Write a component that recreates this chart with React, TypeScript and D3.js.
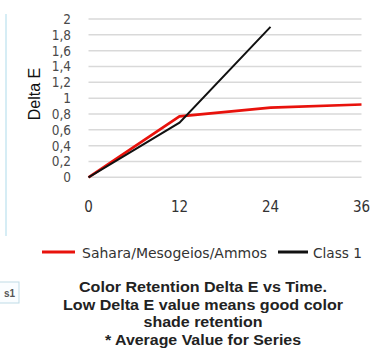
import React from "react";
import * as d3 from "d3";

const months = [0, 12, 24, 36];
const sahara = [0, 0.77, 0.88, 0.92];
const class1 = [0, 0.69, 1.9];
const yTicks = [0, 0.2, 0.4, 0.6, 0.8, 1, 1.2, 1.4, 1.6, 1.8, 2];
const legendLabels = ["Sahara/Mesogeios/Ammos", "Class 1"];
const titleLines = [
  "Color Retention Delta E vs Time.",
  "Low Delta E value means good color",
  "shade retention",
  "* Average Value for Series",
];
const titleWidths = [248, 280, 119, 196];

const W = 384;
const H = 351;

export default function App() {
  const x = d3.scaleLinear().domain([0, 36]).range([88.5, 361.5]);
  const y = d3.scaleLinear().domain([0, 2]).range([177.3, 19]);
  const line = d3
    .line<number>()
    .x((_, i) => x(months[i]))
    .y((d) => y(d));
  const fmt = (v: number) => String(v).replace(".", ",");
  const cond = "'DejaVu Sans Condensed', 'Liberation Sans Narrow', 'Liberation Sans', sans-serif";

  return (
    <svg
      width={W}
      height={H}
      style={{ position: "absolute", left: 0, top: 0, background: "#fff" }}
    >
      {/* left artifacts */}
      <line x1={6} x2={6} y1={14} y2={236} stroke="#d6edf5" strokeWidth={2} />
      <rect x={-2} y={282} width={21} height={21} fill="#fafdff" stroke="#bfdbe6" strokeWidth={1} />
      <text x={4} y={297} fontSize={10} fontWeight="bold" fill="#555" fontFamily="'Liberation Sans', sans-serif">
        s1
      </text>

      {/* gridlines */}
      {yTicks.map((t) => (
        <line
          key={t}
          x1={x(0)}
          x2={x(36)}
          y1={y(t)}
          y2={y(t)}
          stroke="#d9d9d9"
          strokeWidth={1.5}
        />
      ))}

      {/* y tick labels */}
      {yTicks.map((t) => (
        <text
          key={"l" + t}
          x={71}
          y={y(t)}
          dy="0.36em"
          textAnchor="end"
          fontSize={13.5}
          fontFamily={cond}
          fill="#4a4a4a"
        >
          {fmt(t)}
        </text>
      ))}

      <text
        transform={`translate(40,94) rotate(-90)`}
        textAnchor="middle"
        fontSize={16}
        fontFamily="'Liberation Sans', Arial, sans-serif"
        fill="#111"
      >
        Delta E
      </text>

      {/* x tick labels */}
      {months.map((m) => (
        <text
          key={"x" + m}
          x={x(m)}
          y={212}
          textAnchor="middle"
          fontSize={15}
          fontFamily={cond}
          fill="#333"
        >
          {m}
        </text>
      ))}

      {/* lines */}
      <path d={line(sahara) || ""} fill="none" stroke="#e8120c" strokeWidth={2.6} />
      <path d={line(class1) || ""} fill="none" stroke="#111" strokeWidth={2} />

      {/* legend */}
      <line x1={42} x2={75} y1={252} y2={252} stroke="#e8120c" strokeWidth={3} />
      <text x={82} y={258} fontSize={14} fontFamily={cond} fill="#333" textLength={185} lengthAdjust="spacingAndGlyphs">
        {legendLabels[0]}
      </text>
      <line x1={278} x2={308} y1={252} y2={252} stroke="#111" strokeWidth={3} />
      <text x={313} y={258} fontSize={14} fontFamily={cond} fill="#333" textLength={49} lengthAdjust="spacingAndGlyphs">
        {legendLabels[1]}
      </text>

      {/* title */}
      {titleLines.map((t, i) => (
        <text
          key={"t" + i}
          x={203 - titleWidths[i] / 2}
          y={292 + i * 17.7}
          fontSize={14}
          fontWeight="bold"
          fontFamily="'Liberation Sans', Arial, sans-serif"
          fill="#222"
          textLength={titleWidths[i]}
          lengthAdjust="spacingAndGlyphs"
        >
          {t}
        </text>
      ))}
    </svg>
  );
}
